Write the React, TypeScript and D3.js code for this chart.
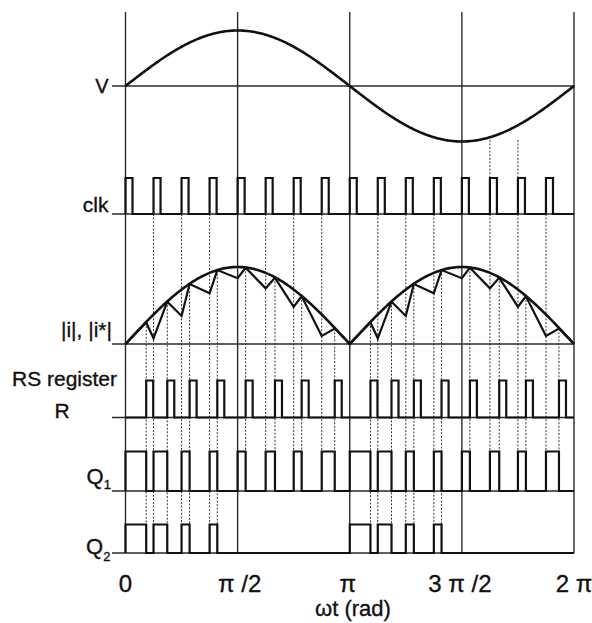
import React from "react";
import * as d3 from "d3";

const W = 592;
const H = 623;
const PI = Math.PI;

// x axis ticks
const xTickValues = [0, PI / 2, PI, (3 * PI) / 2, 2 * PI];
const xTickLabels = ["0", "π /2", "π", "3 π /2", "2 π"];
const xTickOffsets = [0, 2, -2, -2, 0];
const xTitle = "ωt (rad)";

// clock pulses: rising edge of pulse k at k·π/8
const clkPeriod = PI / 8;
const clkWidth = PI / 32;
const clkIndex = [0, 1, 2, 3, 4, 5, 6, 7, 8, 9, 10, 11, 12, 13, 14, 15];

// one half-cycle of the current regulation (repeats from 0 and from π)
const halfStarts = [0, PI];
// reset (R) instants, rad from start of half-cycle
const resetTimes = [0.29, 0.585, 0.898, 1.286, 1.683, 2.094, 2.468, 2.931];
// |i| at each reset (touches |i*|)
const peakValues = [0.28, 0.55, 0.78, 0.96, 0.99, 0.86, 0.62, 0.2];
// |i| at each clock instant (and at end of half-cycle)
const valleyValues = [0, 0.074, 0.364, 0.658, 0.855, 0.723, 0.484, 0.104, 0];
// Q2 follows Q1 for the first cycles of each half-cycle
const q2Cycles = 4;
// dotted drops from V curve into clk row
const vDropClk = [13, 14];
const vDropLevel = -0.97;

// row labels
const labelV = "V";
const labelClk = "clk";
const labelI = "|i|, |i*|";
const labelRs1 = "RS register";
const labelRs2 = "R";
const labelQ = "Q";
const labelQ1sub = "1";
const labelQ2sub = "2";

export default function App() {
  const x = d3.scaleLinear().domain([0, 2 * PI]).range([125.5, 574]);
  const yV = d3.scaleLinear().domain([-1, 1]).range([141.5, 30.5]);
  const yI = d3.scaleLinear().domain([0, 1]).range([344, 267]);
  const yClk = d3.scaleLinear().domain([0, 1]).range([214, 178]);
  const yR = d3.scaleLinear().domain([0, 1]).range([417.5, 380.5]);
  const yQ1 = d3.scaleLinear().domain([0, 1]).range([491, 451.5]);
  const yQ2 = d3.scaleLinear().domain([0, 1]).range([553, 524.5]);
  const topY = 12;
  const labelX0 = 112;

  const samples = d3.range(0, 2 * PI + 1e-9, (2 * PI) / 400);
  const vLine = d3
    .line<number>()
    .x((t) => x(t))
    .y((t) => yV(Math.sin(t)));
  const iRefLine = d3
    .line<number>()
    .x((t) => x(t))
    .y((t) => yI(Math.abs(Math.sin(t))));

  // sawtooth |i|
  const sawPts: [number, number][] = [];
  halfStarts.forEach((h) => {
    sawPts.push([h, valleyValues[0]]);
    resetTimes.forEach((r, c) => {
      sawPts.push([h + r, peakValues[c]]);
      sawPts.push([h + (c + 1) * clkPeriod, valleyValues[c + 1]]);
    });
  });
  const sawLine = d3
    .line<[number, number]>()
    .x((d) => x(d[0]))
    .y((d) => yI(d[1]));

  const pulsePath = (
    intervals: [number, number][],
    ys: d3.ScaleLinear<number, number>
  ) => {
    const pts: [number, number][] = [[0, 0]];
    intervals.forEach(([a, b]) => {
      pts.push([a, 0], [a, 1], [b, 1], [b, 0]);
    });
    pts.push([2 * PI, 0]);
    return d3
      .line<[number, number]>()
      .x((d) => x(d[0]))
      .y((d) => ys(d[1]))(pts) as string;
  };

  const clkIntervals: [number, number][] = clkIndex.map((k) => [
    k * clkPeriod,
    k * clkPeriod + clkWidth,
  ]);
  const rIntervals: [number, number][] = [];
  const q1Intervals: [number, number][] = [];
  const q2Intervals: [number, number][] = [];
  halfStarts.forEach((h) => {
    resetTimes.forEach((r, c) => {
      rIntervals.push([h + r, h + r + clkWidth]);
      q1Intervals.push([h + c * clkPeriod, h + r]);
      if (c < q2Cycles) q2Intervals.push([h + c * clkPeriod, h + r]);
    });
  });

  // dotted guide lines
  const dotted: { t: number; y1: number; y2: number }[] = [];
  clkIndex.forEach((k) => {
    if (k % 4 === 0) return;
    const c = k % 8;
    dotted.push({
      t: k * clkPeriod,
      y1: yClk(0),
      y2: c < q2Cycles ? yQ2(0) : yQ1(0),
    });
  });
  halfStarts.forEach((h) => {
    resetTimes.forEach((r, c) => {
      dotted.push({
        t: h + r,
        y1: yI(peakValues[c]),
        y2: c < q2Cycles ? yQ2(0) : yQ1(0),
      });
    });
  });
  vDropClk.forEach((k) => {
    dotted.push({ t: k * clkPeriod, y1: yV(vDropLevel), y2: yClk(1) });
  });

  const baseYs = [yV(0), yClk(0), yI(0), yR(0), yQ1(0), yQ2(0)];
  const font = "'Liberation Sans', Arial, sans-serif";
  const ink = "#111";
  const lineCol = "#2a2a2a";

  return (
    <div style={{ position: "absolute", left: 0, top: 0 }}>
      <svg width={W} height={H} style={{ display: "block", background: "#fff" }}>
        {/* dotted guides */}
        <g stroke="#333" strokeWidth={1} strokeDasharray="2,1.6" fill="none">
          {dotted.map((d, i) => (
            <line key={i} x1={x(d.t)} x2={x(d.t)} y1={d.y1} y2={d.y2} />
          ))}
        </g>
        {/* main vertical grid lines */}
        <g stroke={lineCol} strokeWidth={1.4}>
          {xTickValues.map((t, i) => (
            <line key={i} x1={x(t)} x2={x(t)} y1={topY} y2={yQ2(0)} />
          ))}
        </g>
        {/* baselines */}
        <g stroke={lineCol} strokeWidth={1.4}>
          {baseYs.map((y, i) => (
            <line key={i} x1={labelX0} x2={x(2 * PI)} y1={y} y2={y} />
          ))}
        </g>
        {/* waveforms */}
        <g fill="none" stroke={ink} strokeLinejoin="miter">
          <path d={vLine(samples) as string} strokeWidth={2.6} />
          <path d={iRefLine(samples) as string} strokeWidth={2.6} />
          <path d={sawLine(sawPts) as string} strokeWidth={2.2} />
          <path d={pulsePath(clkIntervals, yClk)} strokeWidth={2.2} />
          <path d={pulsePath(rIntervals, yR)} strokeWidth={2.2} />
          <path d={pulsePath(q1Intervals, yQ1)} strokeWidth={2.2} />
          <path d={pulsePath(q2Intervals, yQ2)} strokeWidth={2.2} />
        </g>
        {/* row labels */}
        <g fontFamily={font} fill={ink} stroke={ink} strokeWidth={0.35}>
          <text x={108.5} y={93} fontSize={20} textAnchor="end">
            {labelV}
          </text>
          <text x={108.5} y={212} fontSize={21} textAnchor="end">
            {labelClk}
          </text>
          <text x={112} y={337} fontSize={21} textAnchor="end">
            {labelI}
          </text>
          <text x={64.5} y={386} fontSize={21} textAnchor="middle">
            {labelRs1}
          </text>
          <text x={62} y={418} fontSize={21} textAnchor="middle">
            {labelRs2}
          </text>
          <text x={86.5} y={484} fontSize={22}>
            {labelQ}
            <tspan fontSize={13} dy={4.5}>
              {labelQ1sub}
            </tspan>
          </text>
          <text x={86} y={554} fontSize={22}>
            {labelQ}
            <tspan fontSize={13} dy={7}>
              {labelQ2sub}
            </tspan>
          </text>
        </g>
        {/* x tick labels */}
        <g
          fontFamily={font}
          fill={ink}
          stroke={ink}
          strokeWidth={0.35}
          fontSize={24}
          textAnchor="middle"
        >
          {xTickValues.map((t, i) => (
            <text key={i} x={x(t) + xTickOffsets[i]} y={592}>
              {xTickLabels[i]}
            </text>
          ))}
          <text x={353} y={616} fontSize={22}>
            {xTitle}
          </text>
        </g>
      </svg>
    </div>
  );
}
